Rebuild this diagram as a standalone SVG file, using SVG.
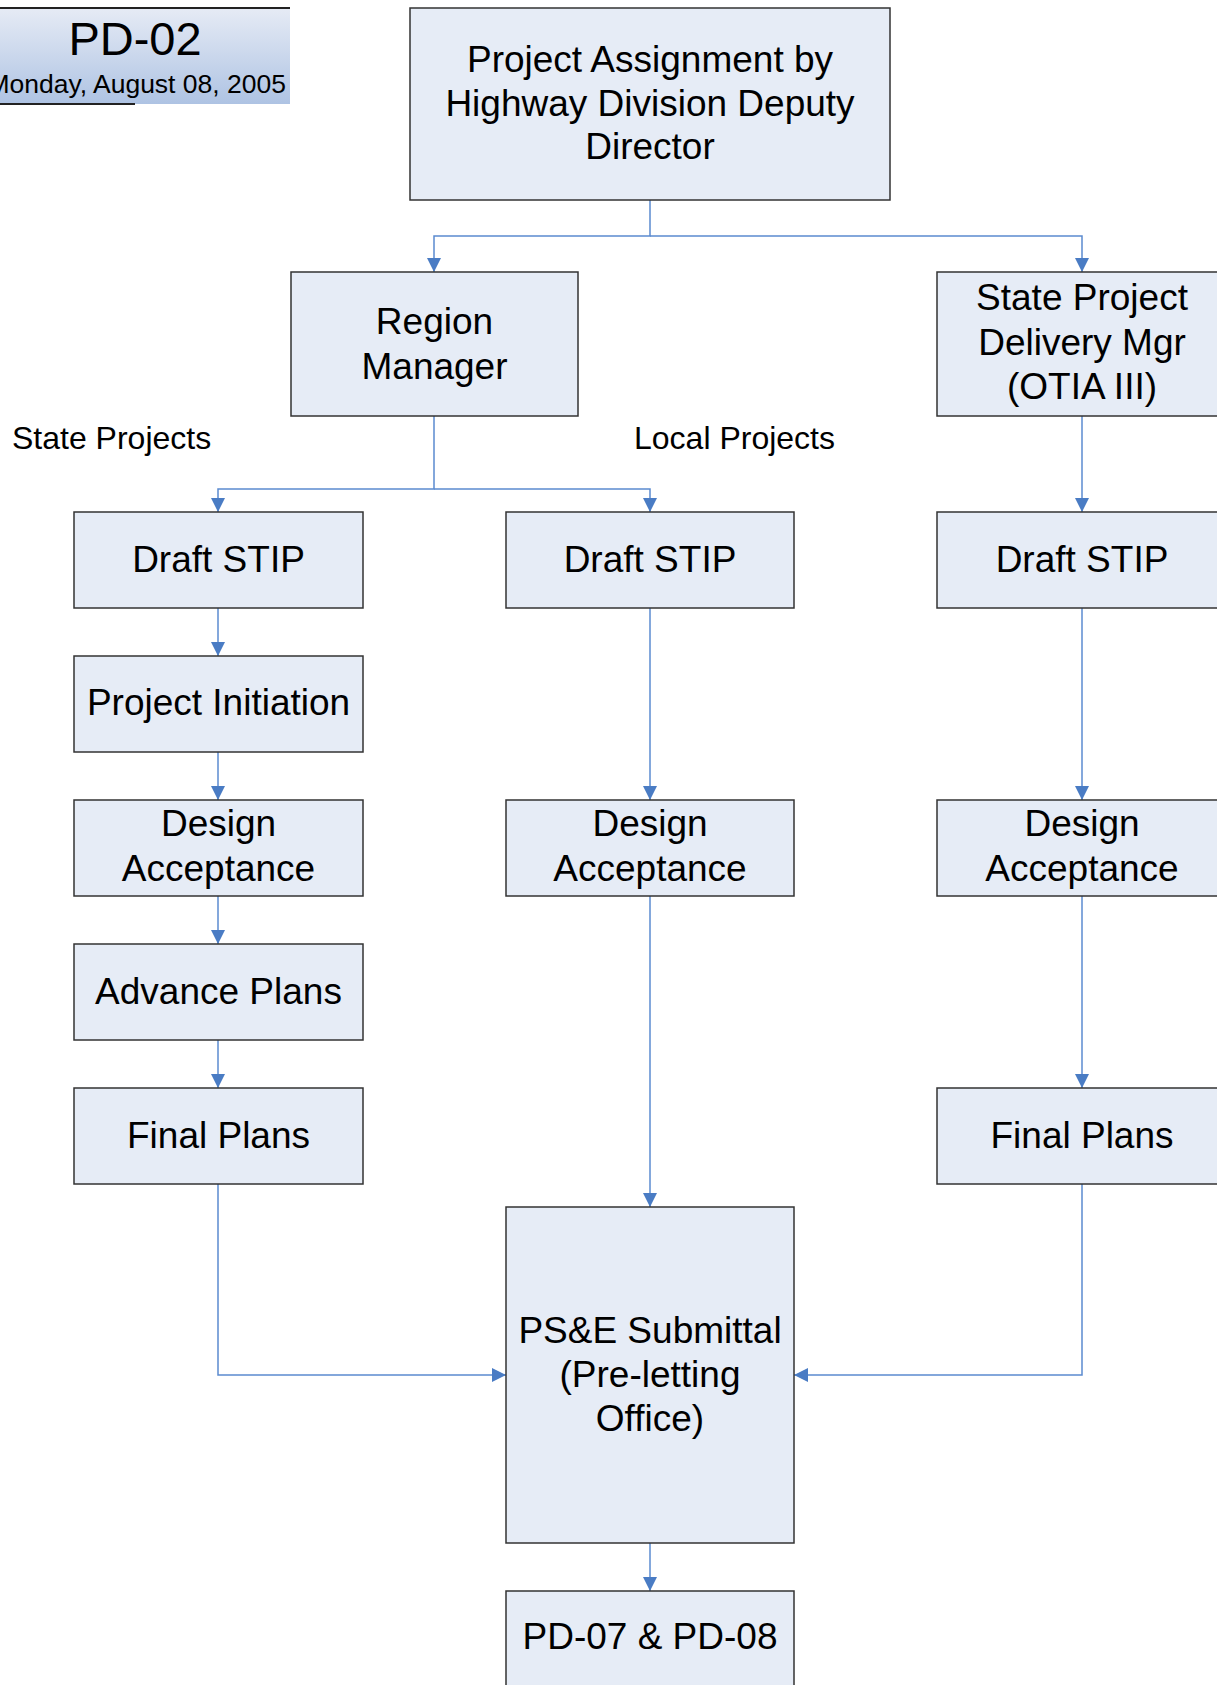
<svg xmlns="http://www.w3.org/2000/svg" width="1217" height="1685" viewBox="0 0 1217 1685">
<style>
.box{fill:#e6ecf6;stroke:#333;stroke-width:1.5}
.t{font-family:"Liberation Sans",Arial,sans-serif;font-size:37px;fill:#000;text-anchor:middle}
.lbl{font-family:"Liberation Sans",Arial,sans-serif;font-size:32px;fill:#000}
.c{fill:none;stroke:#5b8bd0;stroke-width:1.5}
</style>
<defs>
<linearGradient id="g" x1="0" y1="0" x2="0" y2="1">
<stop offset="0" stop-color="#e6ebf5"/>
<stop offset="1" stop-color="#aec3e3"/>
</linearGradient>
<marker id="a" markerUnits="userSpaceOnUse" markerWidth="14" markerHeight="14" refX="14" refY="7" orient="auto">
<path d="M0,0 L14,7 L0,14 Z" fill="#4a7cc4"/>
</marker>
</defs>
<g id="title">
<rect x="-10" y="8" width="300" height="96" fill="url(#g)"/>
<line x1="0" y1="8" x2="290" y2="8" stroke="#222" stroke-width="2"/>
<line x1="0" y1="104" x2="135" y2="104" stroke="#222" stroke-width="2"/>
<text x="135" y="55" class="t" style="font-size:47px">PD-02</text>
<text x="286" y="93" class="t" style="font-size:26.5px;text-anchor:end">Monday, August 08, 2005</text>
</g>
<g id="connectors">
<path class="c" d="M650,200 V236 H434 V272" marker-end="url(#a)"/>
<path class="c" d="M650,236 H1082 V272" marker-end="url(#a)"/>
<path class="c" d="M434,416 V489 H218 V512" marker-end="url(#a)"/>
<path class="c" d="M434,489 H650 V512" marker-end="url(#a)"/>
<path class="c" d="M218,608 V656" marker-end="url(#a)"/>
<path class="c" d="M218,752 V800" marker-end="url(#a)"/>
<path class="c" d="M218,896 V944" marker-end="url(#a)"/>
<path class="c" d="M218,1040 V1088" marker-end="url(#a)"/>
<path class="c" d="M218,1184 V1375 H506" marker-end="url(#a)"/>
<path class="c" d="M650,608 V800" marker-end="url(#a)"/>
<path class="c" d="M650,896 V1207" marker-end="url(#a)"/>
<path class="c" d="M650,1543 V1591" marker-end="url(#a)"/>
<path class="c" d="M1082,416 V512" marker-end="url(#a)"/>
<path class="c" d="M1082,608 V800" marker-end="url(#a)"/>
<path class="c" d="M1082,896 V1088" marker-end="url(#a)"/>
<path class="c" d="M1082,1184 V1375 H794" marker-end="url(#a)"/>
</g>
<g id="labels">
<text x="12" y="449" class="lbl">State Projects</text>
<text x="634" y="449" class="lbl">Local Projects</text>
</g>
<g id="n-assign">
<rect class="box" x="410" y="8" width="480" height="192"/>
<text class="t" x="650" y="72">Project Assignment by</text>
<text class="t" x="650" y="116">Highway Division Deputy</text>
<text class="t" x="650" y="159">Director</text>
</g>
<g id="n-region">
<rect class="box" x="291" y="272" width="287" height="144"/>
<text class="t" x="434.5" y="334">Region</text>
<text class="t" x="434.5" y="379">Manager</text>
</g>
<g id="n-spdm">
<rect class="box" x="937" y="272" width="290" height="144"/>
<text class="t" x="1082" y="310">State Project</text>
<text class="t" x="1082" y="355">Delivery Mgr</text>
<text class="t" x="1082" y="399">(OTIA III)</text>
</g>
<g id="n-l-stip">
<rect class="box" x="74" y="512" width="289" height="96"/>
<text class="t" x="218.5" y="572">Draft STIP</text>
</g>
<g id="n-l-init">
<rect class="box" x="74" y="656" width="289" height="96"/>
<text class="t" x="218.5" y="715">Project Initiation</text>
</g>
<g id="n-l-design">
<rect class="box" x="74" y="800" width="289" height="96"/>
<text class="t" x="218.5" y="836">Design</text>
<text class="t" x="218.5" y="881">Acceptance</text>
</g>
<g id="n-l-adv">
<rect class="box" x="74" y="944" width="289" height="96"/>
<text class="t" x="218.5" y="1004">Advance Plans</text>
</g>
<g id="n-l-final">
<rect class="box" x="74" y="1088" width="289" height="96"/>
<text class="t" x="218.5" y="1148">Final Plans</text>
</g>
<g id="n-m-stip">
<rect class="box" x="506" y="512" width="288" height="96"/>
<text class="t" x="650" y="572">Draft STIP</text>
</g>
<g id="n-m-design">
<rect class="box" x="506" y="800" width="288" height="96"/>
<text class="t" x="650" y="836">Design</text>
<text class="t" x="650" y="881">Acceptance</text>
</g>
<g id="n-pse">
<rect class="box" x="506" y="1207" width="288" height="336"/>
<text class="t" x="650" y="1343">PS&amp;E Submittal</text>
<text class="t" x="650" y="1387">(Pre-letting</text>
<text class="t" x="650" y="1431">Office)</text>
</g>
<g id="n-pd07">
<rect class="box" x="506" y="1591" width="288" height="110"/>
<text class="t" x="650" y="1649">PD-07 &amp; PD-08</text>
</g>
<g id="n-r-stip">
<rect class="box" x="937" y="512" width="290" height="96"/>
<text class="t" x="1082" y="572">Draft STIP</text>
</g>
<g id="n-r-design">
<rect class="box" x="937" y="800" width="290" height="96"/>
<text class="t" x="1082" y="836">Design</text>
<text class="t" x="1082" y="881">Acceptance</text>
</g>
<g id="n-r-final">
<rect class="box" x="937" y="1088" width="290" height="96"/>
<text class="t" x="1082" y="1148">Final Plans</text>
</g>
</svg>
